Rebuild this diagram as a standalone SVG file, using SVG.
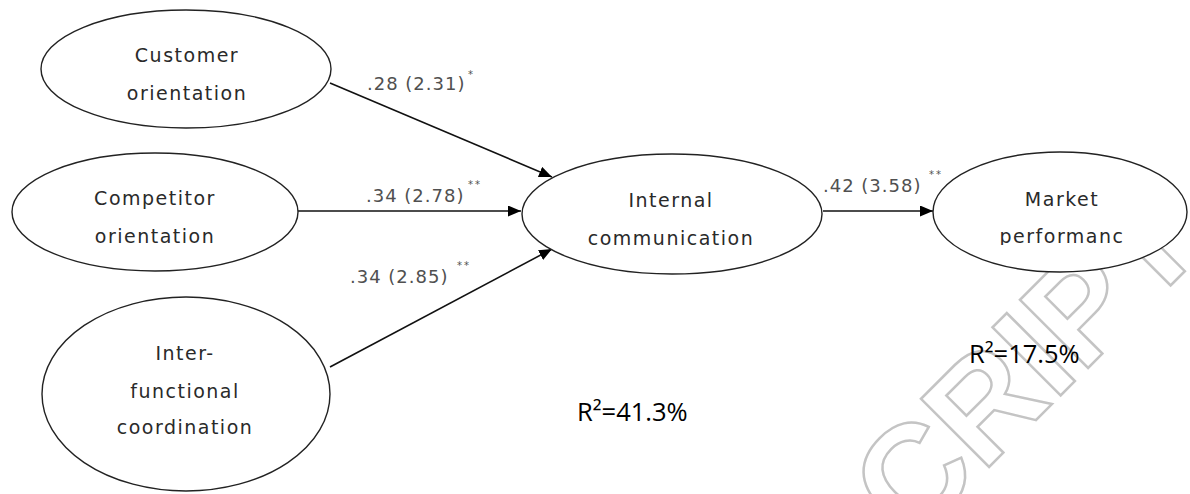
<svg xmlns="http://www.w3.org/2000/svg" width="1190" height="494" viewBox="0 0 1190 494">
<style>
.node ellipse{fill:#fff;stroke:#222;stroke-width:1.4}
.nl{font-family:"DejaVu Sans",sans-serif;font-size:19px;letter-spacing:1.5px;fill:#2a2a2a;text-anchor:middle}
.el{font-family:"DejaVu Sans",sans-serif;font-size:18px;letter-spacing:1px;fill:#505050}
.st{font-family:"DejaVu Sans",sans-serif;font-size:10px;letter-spacing:2px;fill:#505050}
.r2{font-family:"Open Sans",sans-serif;font-size:25.5px;fill:#000}
.conn line{stroke:#111;stroke-width:1.6;marker-end:url(#ah)}
.wm{font-family:"Liberation Sans",sans-serif;font-weight:bold;font-size:140px;fill:none;stroke:#c4c4c4;stroke-width:2.5}
</style>
<defs>
<marker id="ah" markerUnits="userSpaceOnUse" markerWidth="13" markerHeight="11" refX="13" refY="5.5" orient="auto">
<path d="M0,0 L13,5.5 L0,11 z" fill="#000"/>
</marker>
<clipPath id="mclip"><rect x="900" y="150" width="290" height="95"/></clipPath>
</defs>
<rect width="1190" height="494" fill="#fff"/>
<text class="wm" transform="translate(911,545) rotate(-45)">CRIPT</text>
<g class="conn">
<line x1="330" y1="83" x2="552" y2="177"/>
<line x1="298" y1="211" x2="521" y2="211"/>
<line x1="330" y1="367" x2="552" y2="249"/>
<line x1="823" y1="211" x2="933" y2="211"/>
</g>
<g id="customer" class="node">
<ellipse cx="186" cy="69" rx="145" ry="59"/>
<text class="nl" x="187" y="62">Customer</text>
<text class="nl" x="187" y="100">orientation</text>
</g>
<g id="competitor" class="node">
<ellipse cx="155" cy="212" rx="143" ry="59"/>
<text class="nl" x="155" y="205">Competitor</text>
<text class="nl" x="155" y="243">orientation</text>
</g>
<g id="interfunctional" class="node">
<ellipse cx="186" cy="394" rx="144" ry="97"/>
<text class="nl" x="185" y="360">Inter-</text>
<text class="nl" x="185" y="398">functional</text>
<text class="nl" x="185" y="434">coordination</text>
</g>
<g id="internal" class="node">
<ellipse cx="672" cy="214" rx="150" ry="60"/>
<text class="nl" x="671" y="207">Internal</text>
<text class="nl" x="671" y="245">communication</text>
</g>
<g id="market" class="node">
<ellipse cx="1060" cy="212" rx="127" ry="60"/>
<text class="nl" x="1062" y="206">Market</text>
<text class="nl" x="1062" y="243" clip-path="url(#mclip)">performanc</text>
</g>
<g id="labels">
<text class="el" x="367" y="90">.28 (2.31)</text>
<text class="st" x="468" y="78">*</text>
<text class="el" x="366" y="202">.34 (2.78)</text>
<text class="st" x="468" y="188">**</text>
<text class="el" x="350" y="283">.34 (2.85)</text>
<text class="st" x="457" y="269">**</text>
<text class="el" x="823" y="192">.42 (3.58)</text>
<text class="st" x="929" y="178">**</text>
<text class="r2" x="577" y="421">R²=41.3%</text>
<text class="r2" x="969" y="363">R²=17.5%</text>
</g>
</svg>
